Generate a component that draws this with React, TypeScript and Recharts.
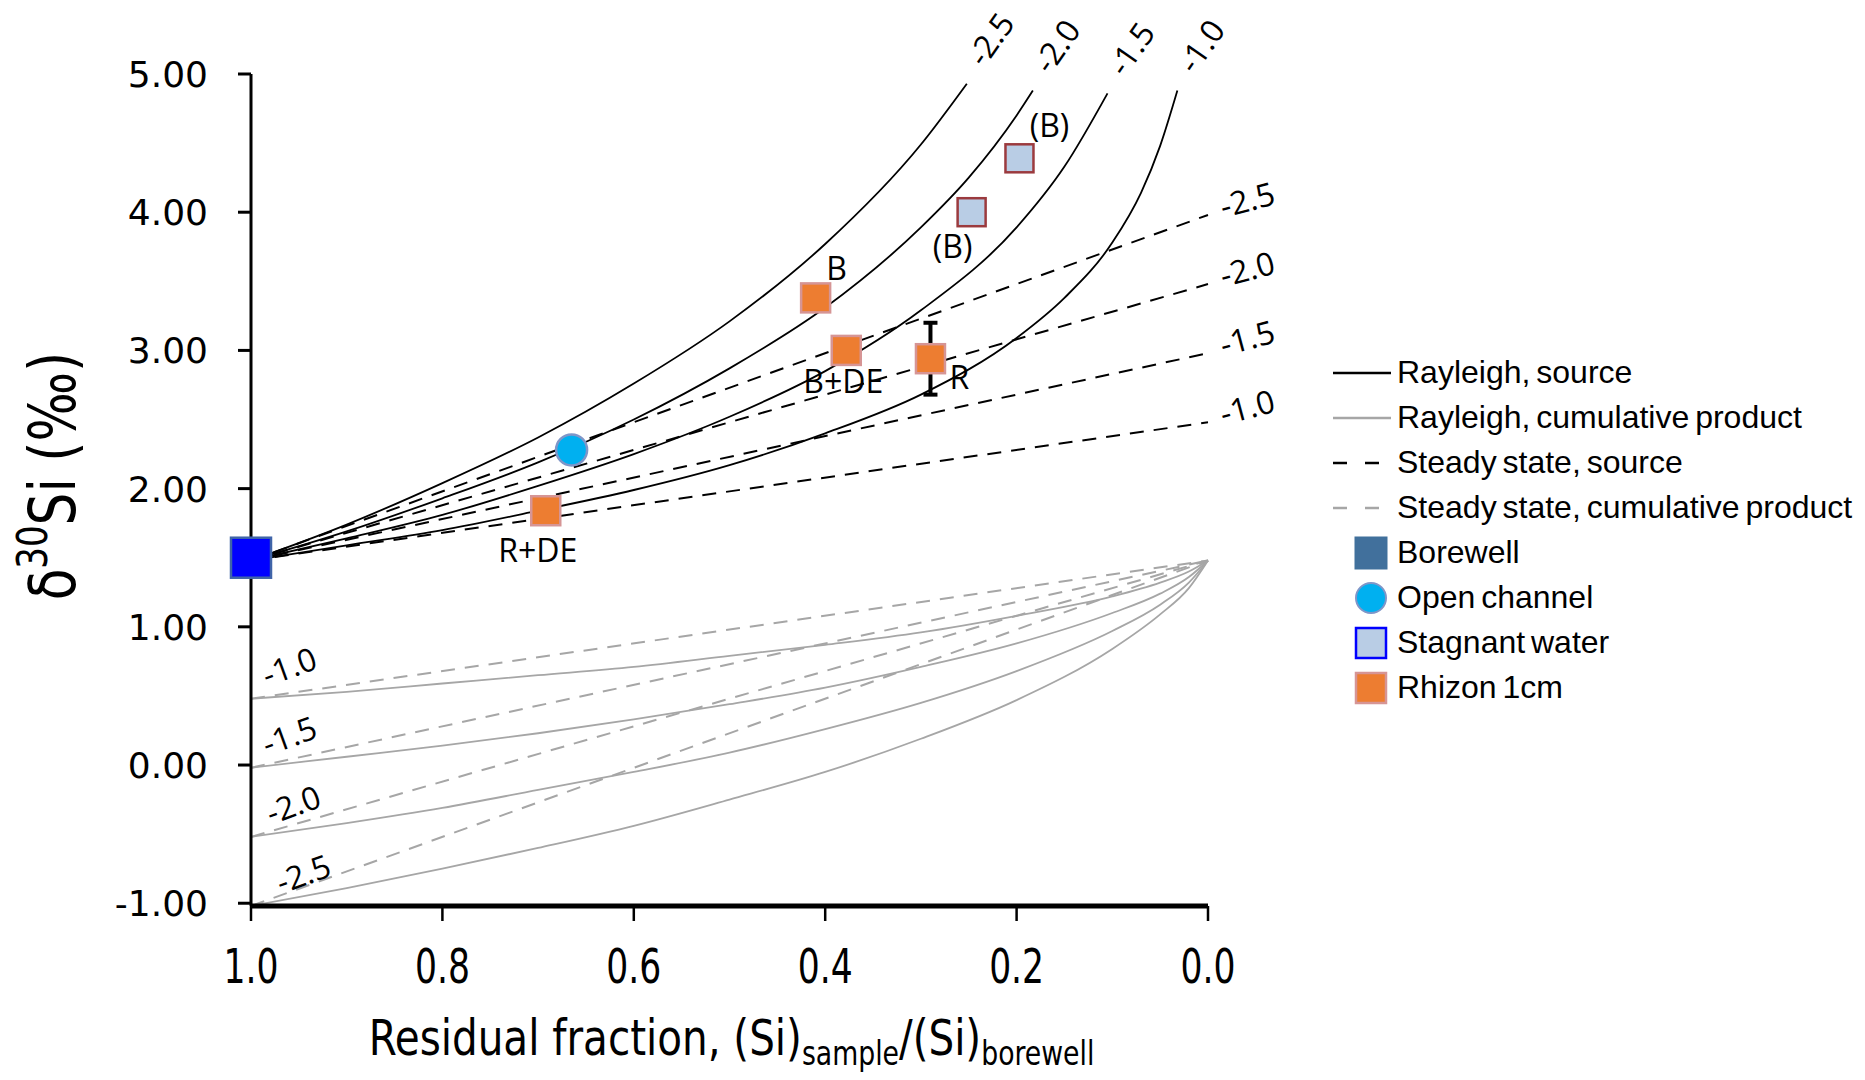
import React from "react";
import { ComposedChart, Line, Scatter, XAxis, YAxis, ErrorBar } from "recharts";

// fonts
const NARROW = '"Liberation Sans Narrow", "DejaVu Sans Condensed", "Open Sans", sans-serif';
const WIDE = '"DejaVu Sans", Verdana, sans-serif';
const NOTE = '"Open Sans", "Noto Sans", sans-serif';
const ARIAL = '"Liberation Sans", Arial, sans-serif';

// fractionation factors (‰), in drawing order
const epsLabels = ["-1.0", "-1.5", "-2.0", "-2.5"];

// Rayleigh, source (black solid) — each curve stops near the top of the plot
const raySrcF10 = [1.0, 0.9, 0.8, 0.7, 0.6, 0.5, 0.4, 0.3, 0.2, 0.15, 0.1, 0.07, 0.05, 0.032];
const raySrcV10 = [1.48, 1.59, 1.7, 1.84, 1.99, 2.17, 2.4, 2.68, 3.09, 3.38, 3.78, 4.14, 4.48, 4.88];
const raySrcF15 = [1.0, 0.9, 0.8, 0.7, 0.6, 0.5, 0.4, 0.3, 0.2, 0.15, 0.105];
const raySrcV15 = [1.48, 1.64, 1.81, 2.02, 2.25, 2.52, 2.85, 3.29, 3.89, 4.33, 4.86];
const raySrcF20 = [1.0, 0.9, 0.8, 0.7, 0.6, 0.5, 0.4, 0.3, 0.25, 0.2, 0.183];
const raySrcV20 = [1.48, 1.69, 1.93, 2.19, 2.5, 2.87, 3.31, 3.89, 4.25, 4.7, 4.88];
const raySrcF25 = [1.0, 0.9, 0.8, 0.7, 0.6, 0.5, 0.4, 0.3, 0.252];
const raySrcV25 = [1.48, 1.74, 2.04, 2.37, 2.76, 3.21, 3.77, 4.49, 4.93];

// Rayleigh, cumulative product (grey solid)
const rayProdF = [1.0, 0.9, 0.8, 0.7, 0.6, 0.5, 0.4, 0.3, 0.2, 0.1, 0.05, 0.02, 0.0];
const rayProdV10 = [0.48, 0.53, 0.59, 0.65, 0.71, 0.79, 0.87, 0.96, 1.08, 1.22, 1.32, 1.4, 1.48];
const rayProdV15 = [-0.02, 0.06, 0.14, 0.23, 0.33, 0.44, 0.56, 0.71, 0.88, 1.1, 1.24, 1.36, 1.48];
const rayProdV20 = [-0.52, -0.42, -0.31, -0.18, -0.05, 0.09, 0.26, 0.45, 0.68, 0.97, 1.16, 1.32, 1.48];
const rayProdV25 = [-1.02, -0.89, -0.75, -0.6, -0.44, -0.25, -0.05, 0.19, 0.47, 0.84, 1.09, 1.28, 1.48];

// steady state (straight lines between f = 1 and f = 0)
const ssF = [1.0, 0.0];
const ssSrcV10 = [1.48, 2.48];
const ssSrcV15 = [1.48, 2.98];
const ssSrcV20 = [1.48, 3.48];
const ssSrcV25 = [1.48, 3.98];
const ssProdV10 = [0.48, 1.48];
const ssProdV15 = [-0.02, 1.48];
const ssProdV20 = [-0.52, 1.48];
const ssProdV25 = [-1.02, 1.48];

// samples
const borewellF = [1.0];
const borewellV = [1.5];
const channelF = [0.665];
const channelV = [2.28];
const stagnantF = [0.247, 0.197];
const stagnantV = [4.0, 4.39];
const stagnantLbl = ["(B)", "(B)"];
const rhizonF = [0.692, 0.41, 0.378, 0.29];
const rhizonV = [1.84, 3.38, 3.0, 2.94];
const rhizonErr = [0, 0, 0, 0.26];
const rhizonLbl = ["R+DE", "B", "B+DE", "R"];

const xTicks = [1.0, 0.8, 0.6, 0.4, 0.2, 0.0];
const yTicks = [-1, 0, 1, 2, 3, 4, 5];

type Pt = { f: number; v: number; err?: number; name?: string; idx?: number };
const zip = (f: number[], v: number[]): Pt[] => f.map((x, i) => ({ f: x, v: v[i] }));

const raySrc = [zip(raySrcF10, raySrcV10), zip(raySrcF15, raySrcV15), zip(raySrcF20, raySrcV20), zip(raySrcF25, raySrcV25)];
const rayProd = [zip(rayProdF, rayProdV10), zip(rayProdF, rayProdV15), zip(rayProdF, rayProdV20), zip(rayProdF, rayProdV25)];
const ssSrc = [zip(ssF, ssSrcV10), zip(ssF, ssSrcV15), zip(ssF, ssSrcV20), zip(ssF, ssSrcV25)];
const ssProd = [zip(ssF, ssProdV10), zip(ssF, ssProdV15), zip(ssF, ssProdV20), zip(ssF, ssProdV25)];

const borewell = zip(borewellF, borewellV);
const channel = zip(channelF, channelV);
const stagnant = stagnantF.map((f, i) => ({ f, v: stagnantV[i], name: stagnantLbl[i], idx: i }));
const rhizon = rhizonF.map((f, i) => ({ f, v: rhizonV[i], err: rhizonErr[i], name: rhizonLbl[i] }));

// label nudges (px) relative to the marker centre
const rhizonNudge: Record<string, [number, number]> = {
  "R+DE": [-8, 39],
  B: [21, -30],
  "B+DE": [-3, 30],
  R: [29, 18],
};
const stagnantNudge: [number, number][] = [
  [-19, 33],
  [30, -34],
];
// left-hand product labels sit a little further right as they go down
const prodLabelDx = [38, 38, 42, 52];

// text label at one point of a curve
const curveLabel = (text: string, at: number, dx: number, dy: number, angle: number) =>
  (props: any) => {
    if (props.index !== at) return <g />;
    const px = (props.x ?? props.viewBox?.x) + dx;
    const py = (props.y ?? props.viewBox?.y) + dy;
    return (
      <text
        x={px}
        y={py}
        transform={`rotate(${angle} ${px} ${py})`}
        textAnchor="middle"
        dominantBaseline="central"
        fontFamily={NOTE}
        fontSize={32}
        fill="#000"
      >
        {text}
      </text>
    );
  };

const pointText = (x: number, y: number, text: string) => (
  <text x={x} y={y} textAnchor="middle" dominantBaseline="central" fontFamily={NOTE} fontSize={32} fill="#000">
    {text}
  </text>
);

const BorewellShape = (p: any) => (
  <rect x={p.cx - 20} y={p.cy - 20} width={40} height={40} fill="#0000FF" stroke="#3F64A8" strokeWidth={2.5} />
);
const ChannelShape = (p: any) => (
  <circle cx={p.cx} cy={p.cy} r={15.5} fill="#00B0F0" stroke="#7F96C8" strokeWidth={2.5} />
);
const StagnantShape = (p: any) => {
  const [dx, dy] = stagnantNudge[p.payload.idx];
  return (
    <g>
      <rect x={p.cx - 14} y={p.cy - 14} width={28} height={28} fill="#B9CDE5" stroke="#9B3A3E" strokeWidth={2.5} />
      {pointText(p.cx + dx, p.cy + dy, p.payload.name)}
    </g>
  );
};
const RhizonShape = (p: any) => {
  const [dx, dy] = rhizonNudge[p.payload.name];
  return (
    <g>
      <rect x={p.cx - 14.5} y={p.cy - 14.5} width={29} height={29} fill="#ED7D31" stroke="#D69595" strokeWidth={2.5} />
      {pointText(p.cx + dx, p.cy + dy, p.payload.name)}
    </g>
  );
};
const NoShape = () => <g />;

// condensed look for the Calibri-like axis text
const XTick = ({ x, y, payload }: any) => (
  <text
    transform={`translate(${x} ${y + 62}) scale(0.8 1)`}
    textAnchor="middle"
    fontFamily={NARROW}
    fontSize={48}
    fill="#000"
  >
    {Number(payload.value).toFixed(1)}
  </text>
);
const YTick = ({ x, y, payload }: any) => (
  <text x={x - 30} y={y + 13} textAnchor="end" fontFamily={WIDE} fontSize={36} fill="#000">
    {Number(payload.value).toFixed(2)}
  </text>
);

const YTitle = ({ viewBox }: any) => {
  const cx = viewBox.x + 52;
  const cy = viewBox.y + viewBox.height / 2 - 14;
  return (
    <text
      transform={`translate(${cx} ${cy}) rotate(-90) scale(0.9 1)`}
      textAnchor="middle"
      dominantBaseline="central"
      fontFamily={NARROW}
      fontSize={64}
      fill="#000"
    >
      δ<tspan fontSize={42} dy={-20}>30</tspan>
      <tspan dy={20}>Si (‰)</tspan>
    </text>
  );
};

const XTitle = ({ viewBox }: any) => (
  <text
    transform={`translate(${viewBox.x + viewBox.width / 2 + 2} ${viewBox.y + 149}) scale(0.9 1)`}
    textAnchor="middle"
    fontFamily={NARROW}
    fontSize={50}
    fill="#000"
  >
    Residual fraction, (Si)
    <tspan fontSize={33} dy={10}>sample</tspan>
    <tspan dy={-10}>/(Si)</tspan>
    <tspan fontSize={33} dy={10}>borewell</tspan>
  </text>
);

const legendRows = [
  { label: "Rayleigh, source", kind: "line", color: "#000", dash: "" },
  { label: "Rayleigh, cumulative product", kind: "line", color: "#A6A6A6", dash: "" },
  { label: "Steady state, source", kind: "line", color: "#000", dash: "14 18" },
  { label: "Steady state, cumulative product", kind: "line", color: "#A6A6A6", dash: "14 18" },
  { label: "Borewell", kind: "borewell" },
  { label: "Open channel", kind: "channel" },
  { label: "Stagnant water", kind: "stagnant" },
  { label: "Rhizon 1cm", kind: "rhizon" },
];

function LegendIcon({ row }: { row: any }) {
  let mark: React.ReactNode = null;
  if (row.kind === "line") {
    mark = <line x1={0} y1={20} x2={58} y2={20} stroke={row.color} strokeWidth={2.5} strokeDasharray={row.dash} />;
  } else if (row.kind === "borewell") {
    mark = <rect x={22} y={4} width={32} height={32} fill="#41709C" stroke="#41709C" strokeWidth={1} />;
  } else if (row.kind === "channel") {
    mark = <circle cx={38} cy={20} r={15} fill="#00B0F0" stroke="#7F96C8" strokeWidth={2} />;
  } else if (row.kind === "stagnant") {
    mark = <rect x={23} y={5} width={30} height={30} fill="#B9CDE5" stroke="#0000FF" strokeWidth={2.5} />;
  } else {
    mark = <rect x={23} y={5} width={30} height={30} fill="#ED7D31" stroke="#D69595" strokeWidth={2.5} />;
  }
  return (
    <svg width={63} height={40} style={{ flex: "none" }}>
      {mark}
    </svg>
  );
}

function LegendBox() {
  return (
    <div style={{ position: "absolute", left: 1333, top: 350, fontFamily: ARIAL, fontSize: 32, color: "#000", wordSpacing: -3 }}>
      {legendRows.map((row) => (
        <div key={row.label} style={{ display: "flex", alignItems: "center", height: 45, whiteSpace: "nowrap" }}>
          <LegendIcon row={row} />
          <span style={{ marginLeft: 1 }}>{row.label}</span>
        </div>
      ))}
    </div>
  );
}

export default function App() {
  return (
    <div style={{ position: "fixed", left: 0, top: 0, width: 1865, height: 1080, background: "#fff" }}>
      <ComposedChart width={1865} height={1080} margin={{ top: 74, right: 657, bottom: 54, left: 0 }}>
        <XAxis
          dataKey="f"
          type="number"
          domain={[0, 1]}
          reversed
          ticks={xTicks}
          height={120}
          tick={<XTick />}
          tickSize={15}
          tickMargin={0}
          axisLine={{ stroke: "#000", strokeWidth: 5 }}
          tickLine={{ stroke: "#000", strokeWidth: 2.5 }}
          label={<XTitle />}
        />
        <YAxis
          type="number"
          domain={[-1, 5]}
          ticks={yTicks}
          width={251}
          tick={<YTick />}
          tickSize={13}
          tickMargin={0}
          axisLine={{ stroke: "#000", strokeWidth: 3 }}
          tickLine={{ stroke: "#000", strokeWidth: 3 }}
          label={<YTitle />}
        />

        {ssProd.map((s, i) => (
          <Line key={"ssp" + i} data={s} dataKey="v" type="linear" stroke="#A6A6A6" strokeWidth={2} strokeDasharray="14 10" dot={false} isAnimationActive={false} />
        ))}
        {rayProd.map((s, i) => (
          <Line
            key={"rp" + i}
            data={s}
            dataKey="v"
            type="monotone"
            stroke="#A6A6A6"
            strokeWidth={1.8}
            dot={false}
            isAnimationActive={false}
            label={curveLabel(epsLabels[i], 0, prodLabelDx[i], -33, -20)}
          />
        ))}
        {ssSrc.map((s, i) => (
          <Line
            key={"sss" + i}
            data={s}
            dataKey="v"
            type="linear"
            stroke="#000"
            strokeWidth={2}
            strokeDasharray="14 10"
            dot={false}
            isAnimationActive={false}
            label={curveLabel(epsLabels[i], 1, 39, -16, -15)}
          />
        ))}
        {raySrc.map((s, i) => (
          <Line
            key={"rs" + i}
            data={s}
            dataKey="v"
            type="monotone"
            stroke="#000"
            strokeWidth={1.8}
            dot={false}
            isAnimationActive={false}
            label={curveLabel(epsLabels[i], s.length - 1, 23, -45, -55)}
          />
        ))}

        <Scatter data={borewell} dataKey="v" shape={BorewellShape} isAnimationActive={false} />
        <Scatter data={channel} dataKey="v" shape={ChannelShape} isAnimationActive={false} />
        <Scatter data={stagnant} dataKey="v" shape={StagnantShape} isAnimationActive={false} />
        {/* error bar drawn first so the marker sits on top of it */}
        <Scatter data={rhizon} dataKey="v" shape={NoShape} isAnimationActive={false}>
          <ErrorBar dataKey="err" direction="y" width={7} stroke="#000" strokeWidth={4} />
        </Scatter>
        <Scatter data={rhizon} dataKey="v" shape={RhizonShape} isAnimationActive={false} />
      </ComposedChart>
      <LegendBox />
    </div>
  );
}
